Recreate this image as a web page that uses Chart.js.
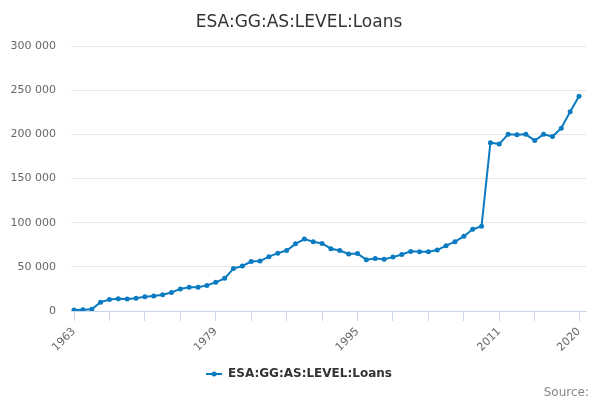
<!DOCTYPE html>
<html><head><meta charset="utf-8">
<script src="https://cdn.jsdelivr.net/npm/chart.js@4/dist/chart.umd.min.js"></script>
<style>html,body{margin:0;padding:0;background:#fff}#wrap{width:600px;height:400px}</style>
</head><body><div id="wrap"><canvas id="c" width="600" height="400"></canvas></div>
<script>
const chartTitle = 'ESA:GG:AS:LEVEL:Loans';
const seriesName = 'ESA:GG:AS:LEVEL:Loans';
const sourceText = 'Source:';
const years = [1963,1964,1965,1966,1967,1968,1969,1970,1971,1972,
  1973,1974,1975,1976,1977,1978,1979,1980,1981,1982,
  1983,1984,1985,1986,1987,1988,1989,1990,1991,1992,
  1993,1994,1995,1996,1997,1998,1999,2000,2001,2002,
  2003,2004,2005,2006,2007,2008,2009,2010,2011,2012,
  2013,2014,2015,2016,2017,2018,2019,2020];
const loans = [1000,1500,2000,10000,13000,14000,13500,14500,16000,17000,
  18500,21000,25000,27000,27000,29000,32500,37000,48000,51000,
  56000,56500,61500,65500,68500,76000,81500,78500,76500,70500,
  68500,64500,65000,58000,59500,58500,61000,64000,67500,67000,
  67000,69000,74000,78500,84500,92500,96000,190500,189000,200000,
  199500,200000,193000,200000,197500,207000,225500,243000];
const xTickYears = [1963,1967,1971,1975,1979,1983,1987,1991,1995,1999,2003,2007,2011,2015,2020];
const xLabelYears = [1963,1979,1995,2011,2020];
const yTickValues = [0,50000,100000,150000,200000,250000,300000];

const lineColor = '#0a7bc1';
const sym = document.createElement('canvas');
sym.width = 16; sym.height = 8;
(function(){
  const g = sym.getContext('2d');
  g.strokeStyle = lineColor; g.lineWidth = 2;
  g.beginPath(); g.moveTo(0,4); g.lineTo(16,4); g.stroke();
  g.fillStyle = lineColor; g.beginPath(); g.arc(8,4,2.5,0,Math.PI*2); g.fill();
})();

const fmt = v => String(v).replace(/\B(?=(\d{3})+(?!\d))/g, ' ');

new Chart(document.getElementById('c'), {
  type: 'line',
  data: {
    datasets: [{
      label: seriesName,
      data: years.map((y,i) => ({x: y, y: loans[i]})),
      borderColor: lineColor,
      backgroundColor: lineColor,
      borderWidth: 2,
      pointRadius: 2.5,
      pointBorderWidth: 0,
      pointBackgroundColor: lineColor,
      tension: 0,
      fill: false
    }]
  },
  options: {
    responsive: false,
    devicePixelRatio: 1,
    animation: false,
    layout: { padding: { left: 9, right: 11, top: 0, bottom: 0 } },
    scales: {
      x: {
        type: 'linear',
        min: 1962.66,
        max: 2020.79,
        afterBuildTicks: s => { s.ticks = xTickYears.map(v => ({value: v})); },
        afterFit: s => { s.height = 52; s.paddingRight = 14; s.paddingLeft = 0; },
        grid: { display: true, drawOnChartArea: false, drawTicks: true, tickLength: 10, color: '#ccd6eb', lineWidth: 1 },
        border: { display: true, color: '#ccd6eb', width: 1 },
        ticks: {
          autoSkip: false,
          minRotation: 45, maxRotation: 45,
          padding: 4,
          color: '#666666',
          font: { family: 'DejaVu Sans', size: 11 },
          callback: v => xLabelYears.includes(v) ? String(v) : ''
        }
      },
      y: {
        min: 0, max: 300000,
        afterBuildTicks: s => { s.ticks = yTickValues.map(v => ({value: v})); },
        afterFit: s => { s.width = 62; },
        grid: { color: '#e6e6e6', lineWidth: 1, drawTicks: false },
        border: { display: false },
        ticks: {
          padding: 15,
          color: '#666666',
          font: { family: 'DejaVu Sans', size: 11 },
          callback: v => fmt(v)
        }
      }
    },
    plugins: {
      tooltip: { enabled: false },
      title: {
        display: true,
        text: chartTitle,
        color: '#333333',
        font: { family: 'DejaVu Sans', size: 17, weight: 'normal', lineHeight: 1.2 },
        padding: { top: 12.3, bottom: 13.3 }
      },
      subtitle: {
        display: true,
        position: 'bottom',
        align: 'end',
        text: sourceText,
        color: '#888888',
        font: { family: 'DejaVu Sans', size: 12, weight: 'normal', lineHeight: 1 },
        padding: { top: -3, bottom: 1 }
      },
      legend: {
        display: true,
        position: 'bottom',
        labels: {
          usePointStyle: true,
          pointStyleWidth: 16,
          padding: 5,
          color: '#333333',
          font: { family: 'DejaVu Sans', size: 12, weight: 'bold' },
          generateLabels: chart => [{
            text: chart.data.datasets[0].label,
            pointStyle: sym,
            fillStyle: lineColor,
            strokeStyle: lineColor,
            lineWidth: 0,
            hidden: false,
            datasetIndex: 0,
            fontColor: '#333333'
          }]
        }
      }
    }
  }
});
</script>
</body></html>
